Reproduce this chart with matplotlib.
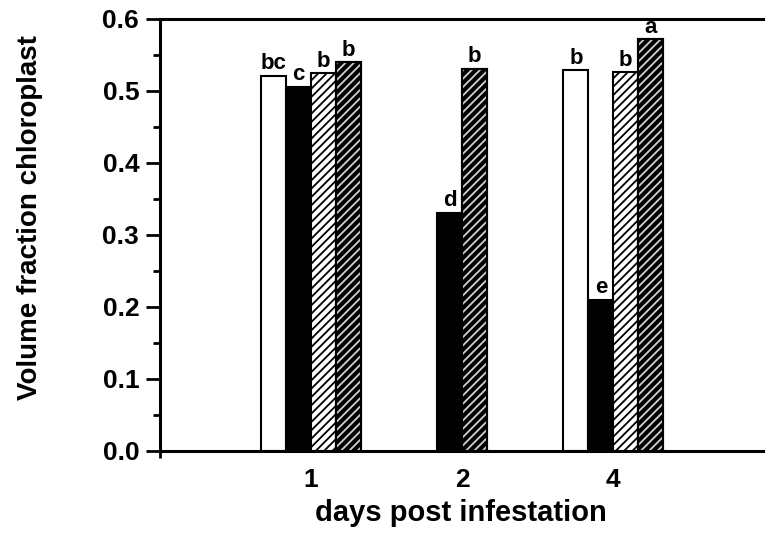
import matplotlib
matplotlib.use("Agg")
import matplotlib.pyplot as plt
import numpy as np

plt.rcParams['font.family'] = ['Liberation Sans', 'DejaVu Sans']
plt.rcParams['hatch.linewidth'] = 1.3

# ---- data ----
days = ['1', '2', '4']
white_vals = [0.521, None, 0.529]
black_vals = [0.506, 0.331, 0.210]
light_vals = [0.525, None, 0.526]
dense_vals = [0.540, 0.531, 0.572]

white_letters = ['bc', None, 'b']
black_letters = ['c', 'd', 'e']
light_letters = ['b', None, 'b']
dense_letters = ['b', 'b', 'a']

y_ticks = [0.0, 0.1, 0.2, 0.3, 0.4, 0.5, 0.6]
y_tick_labels = ['0.0', '0.1', '0.2', '0.3', '0.4', '0.5', '0.6']

series = [
    (white_vals, white_letters, 'white'),
    (black_vals, black_letters, 'black'),
    (light_vals, light_letters, 'light'),
    (dense_vals, dense_letters, 'dense'),
]

fig = plt.figure(figsize=(7.65, 5.46), dpi=100)
ax = fig.add_axes([160/765, 95/546, 615/765, 432/546])

group_pos = np.arange(1, len(days) + 1)
bw = 0.165
edge_lw = 1.5

for gi, gx in enumerate(group_pos):
    present = [s for s in series if s[0][gi] is not None]
    n = len(present)
    for k, (vals, letters, style) in enumerate(present):
        x = gx + (k - (n - 1) / 2) * bw
        v = vals[gi]
        if style == 'white':
            ax.bar(x, v, width=bw, facecolor='white', edgecolor='black', linewidth=edge_lw, zorder=2)
        elif style == 'black':
            ax.bar(x, v, width=bw, facecolor='black', edgecolor='black', linewidth=edge_lw, zorder=2)
        elif style == 'light':
            ax.bar(x, v, width=bw, facecolor='white', edgecolor='black', hatch='////', linewidth=edge_lw, zorder=2)
        else:
            ax.bar(x, v, width=bw, facecolor='black', edgecolor='black', linewidth=edge_lw, zorder=2)
            ax.bar(x, v, width=bw, facecolor='none', edgecolor='#d0d0d0', hatch='////', linewidth=0, zorder=3)
            ax.bar(x, v, width=bw, facecolor='none', edgecolor='black', linewidth=edge_lw, zorder=4)
        lab = letters[gi]
        if lab:
            ax.text(x, v + 0.002, lab, ha='center', va='bottom', fontsize=16,
                    fontweight='bold', zorder=5)

ax.set_xlim(0, 4.07)
ax.set_ylim(0, 0.6)

ax.set_xticks(group_pos)
ax.set_xticklabels(days, fontsize=19, fontweight='bold')
ax.tick_params(axis='x', which='major', length=0, pad=12)
ax.set_xticks([0], minor=True)
ax.tick_params(axis='x', which='minor', length=5, width=2, direction='out')

ax.set_yticks(y_ticks)
ax.set_yticklabels(y_tick_labels, fontsize=19, fontweight='bold')
ax.set_yticks(np.arange(0.05, 0.6, 0.1), minor=True)
ax.tick_params(axis='y', which='major', length=10, width=2, direction='out', pad=5)
ax.tick_params(axis='y', which='minor', length=5, width=2, direction='out')

for sp in ['left', 'bottom', 'top']:
    ax.spines[sp].set_linewidth(2.2)
ax.spines['right'].set_visible(False)

ax.set_xlabel('days post infestation', fontsize=21, fontweight='bold')
ax.xaxis.set_label_coords(0.49, -0.11)
ax.set_ylabel('Volume fraction chloroplast', fontsize=20, fontweight='bold')
ax.yaxis.set_label_coords(-0.19, 0.54)

fig.savefig('out.png', dpi=100)
